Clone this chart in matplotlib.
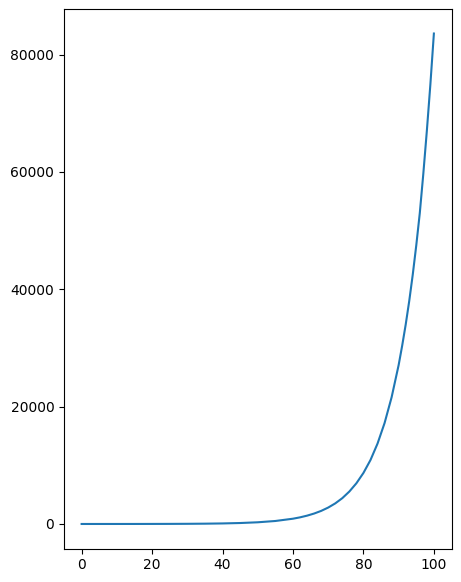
import matplotlib
matplotlib.use("Agg")
import matplotlib.pyplot as plt

# values
x_values = [0, 5, 10, 15, 20, 25, 30, 35, 40, 45, 50, 55, 60, 62, 64, 66, 68,
            70, 72, 74, 76, 78, 80, 82, 84, 86, 88, 90, 91, 92, 93, 94, 95,
            96, 97, 98, 99, 100]
y_values = [1, 2, 3, 5, 10, 17, 30, 53, 93, 164, 289, 510, 900, 1130, 1420,
            1780, 2230, 2800, 3510, 4400, 5530, 6940, 8700, 10900, 13700,
            17200, 21600, 27100, 30400, 34000, 38000, 42500, 47500,
            53000, 59700, 67000, 74900, 83600]

fig, ax = plt.subplots(figsize=(4.61, 5.82), dpi=100)
fig.subplots_adjust(left=64 / 461, right=451.5 / 461, top=1 - 9 / 582, bottom=1 - 548.5 / 582)

ax.plot(x_values, y_values)

fig.savefig("out.png", dpi=100)
